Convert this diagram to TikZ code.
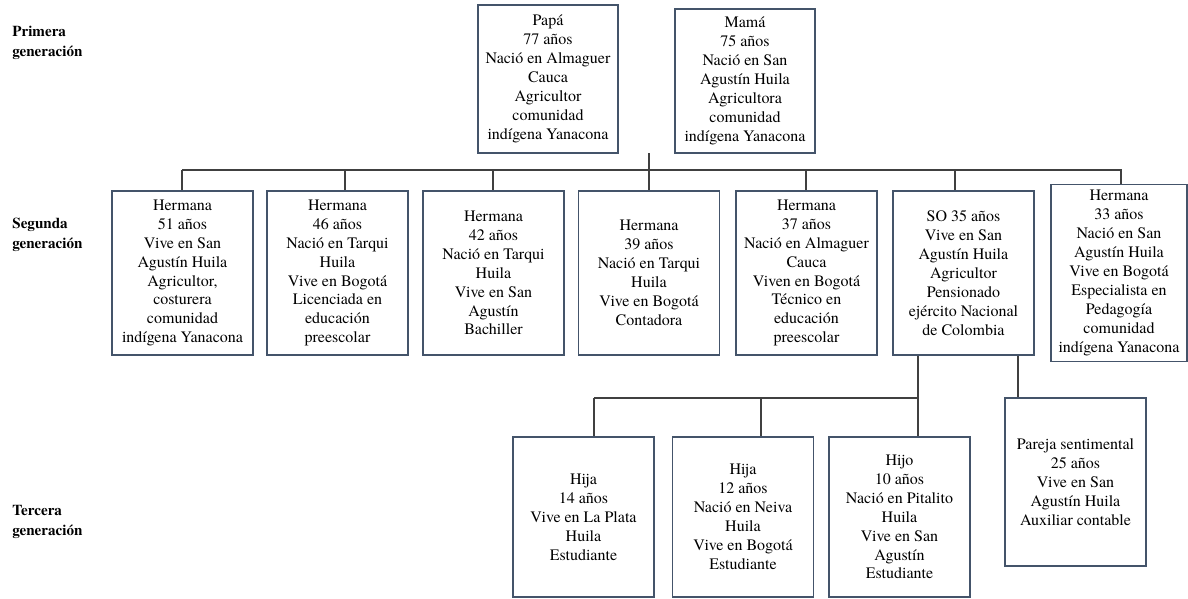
\documentclass[tikz,border=0pt]{standalone}
\usepackage{fontspec}
\IfFontExistsTF{texgyretermes-regular.otf}
  {\setmainfont{texgyretermes}[Extension=.otf,UprightFont=*-regular,BoldFont=*-bold,ItalicFont=*-italic,BoldItalicFont=*-bolditalic]}
  {\setmainfont{Liberation Serif}}
\definecolor{marco}{HTML}{44546A}
\tikzset{
  persona/.style={draw=marco,line width=0.8pt,align=center,font=\rmfamily\fontsize{9.1}{10.76}\selectfont},
  gen/.style={anchor=west,align=left,inner sep=0pt,font=\rmfamily\bfseries\fontsize{8.6}{11.4}\selectfont},
  enlace/.style={draw=black!75,line width=0.8pt}
}
\begin{document}
\begin{tikzpicture}[x=0.02cm,y=-0.02cm]
\useasboundingbox (0,0) rectangle (1188,599);

% Generation labels
\node[gen] (g1) at (12,43) {Primera\\generación};
\node[gen] (g2) at (12,235) {Segunda\\generación};
\node[gen] (g3) at (12,522) {Tercera\\generación};

% First generation
\node[persona,minimum width=2.8cm,minimum height=2.96cm] (papa) at (548,79)
  {Papá\\77 años\\Nació en Almaguer\\Cauca\\Agricultor\\comunidad\\indígena Yanacona};
\node[persona,minimum width=2.8cm,minimum height=2.88cm] (mama) at (745,81)
  {Mamá\\75 años\\Nació en San\\Agustín Huila\\Agricultora\\comunidad\\indígena Yanacona};
\coordinate (padres) at (649,153);

% Second generation
\begin{scope}[every node/.append style={persona,minimum width=2.82cm,minimum height=3.28cm}]
\node (h1) at (182.5,273) {Hermana\\51 años\\Vive en San\\Agustín Huila\\Agricultor,\\costurera\\comunidad\\indígena Yanacona};
\node (h2) at (337.5,273) {Hermana\\46 años\\Nació en Tarqui\\Huila\\Vive en Bogotá\\Licenciada en\\educación\\preescolar};
\node (h3) at (493.5,273) {Hermana\\42 años\\Nació en Tarqui\\Huila\\Vive en San\\Agustín\\Bachiller};
\node (h4) at (649,273) {Hermana\\39 años\\Nació en Tarqui\\Huila\\Vive en Bogotá\\Contadora};
\node (h5) at (806.5,273) {Hermana\\37 años\\Nació en Almaguer\\Cauca\\Viven en Bogotá\\Técnico en\\educación\\preescolar};
\node (h6) at (963.5,273) {SO 35 años\\Vive en San\\Agustín Huila\\Agricultor\\Pensionado\\ejército Nacional\\de Colombia};
\node[minimum width=2.72cm] (h7) at (1119,273) {Hermana\\33 años\\Nació en San\\Agustín Huila\\Vive en Bogotá\\Especialista en\\Pedagogía\\comunidad\\indígena Yanacona};
\end{scope}

% Third generation
\begin{scope}[every node/.append style={persona,minimum width=2.82cm,minimum height=3.2cm}]
\node (n1) at (583.5,517) {Hija\\14 años\\Vive en La Plata\\Huila\\Estudiante};
\node (n2) at (743,517) {Hija\\12 años\\Nació en Neiva\\Huila\\Vive en Bogotá\\Estudiante};
\node (n3) at (899.5,517) {Hijo\\10 años\\Nació en Pitalito\\Huila\\Vive en San\\Agustín\\Estudiante};
\node[minimum height=3.36cm] (pareja) at (1075.5,482) {Pareja sentimental\\25 años\\Vive en San\\Agustín Huila\\Auxiliar contable};
\end{scope}

% Connectors
\draw[enlace] (padres) -- (649,170);
\draw[enlace] (182,170) -- (1122,170);
\foreach \n/\x in {h1/182,h2/345,h3/493,h4/649,h5/806,h6/955,h7/1121}
  \draw[enlace] (\x,170) -- (\n.north -| \x,0);

\draw[enlace] (h6.south -| 918,0) -- (918,398);
\draw[enlace] (594,398) -- (918,398);
\foreach \n/\x in {n1/594,n2/761,n3/918}
  \draw[enlace] (\x,398) -- (\n.north -| \x,0);
\draw[enlace] (h6.south -| 1018,0) -- (pareja.north -| 1018,0);
\end{tikzpicture}
\end{document}
